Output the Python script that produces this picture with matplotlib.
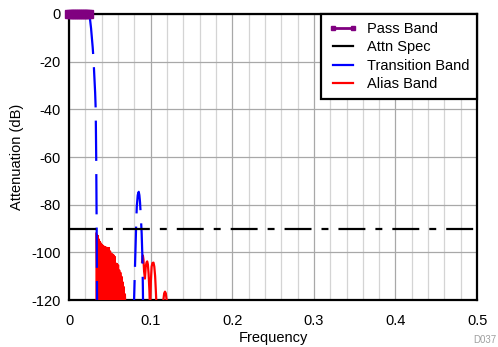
import matplotlib
matplotlib.use("Agg")
import matplotlib.pyplot as plt
from matplotlib.lines import Line2D
from matplotlib.ticker import MultipleLocator

plt.rcParams['font.family'] = ['Liberation Sans', 'DejaVu Sans']
plt.rcParams['lines.scale_dashes'] = False

# pass band (flat at 0 dB)
pass_f = [0.0, 0.0025, 0.005, 0.0075, 0.01, 0.0125, 0.015, 0.0175, 0.02, 0.0225, 0.0245]
pass_db = [0.0, 0.0, 0.0, 0.0, 0.0, 0.0, 0.0, 0.0, 0.0, 0.0, 0.0]

# attenuation spec
spec_f = [0.0, 0.5]
spec_db = [-90.0, -90.0]

# transition band (filter response)
trans_f = [0.0245, 0.025, 0.026, 0.027, 0.028, 0.029, 0.030, 0.031, 0.032, 0.0327,
           0.033, 0.0333, 0.0336, 0.0339, 0.0342, 0.0345, 0.050, 0.079, 0.0797,
           0.0805, 0.0815, 0.0823, 0.083, 0.0842, 0.0854, 0.0862, 0.087, 0.088,
           0.089, 0.0899, 0.0905, 0.091]
trans_db = [0.0, -0.5, -3, -6, -10, -14, -19, -26, -33, -40,
            -50, -60, -75, -92, -110, -130, -140, -130, -120,
            -110, -98, -88, -81, -76, -74.6, -76, -79, -85,
            -92, -102, -115, -130]

# alias band, first group of lobes
alias1_f = [0.0331, 0.0337, 0.0343, 0.0349, 0.0355, 0.0361, 0.0367, 0.0373, 0.0380, 0.0387,
            0.0394, 0.0401, 0.0408, 0.0415, 0.0422, 0.0429, 0.0436, 0.0443, 0.0450, 0.0457,
            0.0464, 0.0471, 0.0478, 0.0485, 0.0492, 0.0499, 0.0506, 0.0513, 0.0520, 0.0527,
            0.0534, 0.0541, 0.0548, 0.0555, 0.0562, 0.0569, 0.0576, 0.0583, 0.0590, 0.0597,
            0.0604, 0.0611, 0.0618, 0.0625, 0.0632, 0.0639, 0.0646, 0.0653, 0.0660, 0.0667,
            0.0674, 0.0681, 0.0688, 0.0695]
alias1_db = [-92.0, -125, -92.5, -125, -93.0, -125, -94.5, -125, -95.5, -125,
             -96.2, -125, -96.8, -125, -97.3, -125, -97.6, -125, -97.8, -125,
             -98.0, -125, -98.1, -125, -98.1, -125, -99.5, -125, -100.5, -125,
             -100.8, -125, -101.2, -125, -101.8, -125, -104.6, -125, -104.8, -125,
             -105.3, -125, -107.5, -125, -108.5, -125, -110.2, -125, -112.5, -125,
             -114.5, -125, -117.5, -125]

# alias band, second group of lobes
alias2_f = [0.0895, 0.0900, 0.0905, 0.0912, 0.0920, 0.0930, 0.0940, 0.0950, 0.0958, 0.0966,
            0.0975, 0.0985, 0.0993, 0.1003, 0.1012, 0.1022, 0.1035, 0.1045, 0.1055, 0.1065,
            0.1075, 0.1148, 0.1156, 0.1166, 0.1176, 0.1186, 0.1196, 0.1205]
alias2_db = [-104, -101.8, -101.3, -103, -108, -111, -106, -104.2, -103.8, -105,
             -109, -116, -125, -112, -106, -104.5, -104.3, -106, -110, -117,
             -125, -125, -120, -117.2, -116.5, -117.2, -120, -125]

fig = plt.figure(figsize=(4.98, 3.47), dpi=100)
ax = fig.add_axes([0.1386, 0.1354, 0.8194, 0.8243])

ax.plot(alias1_f, alias1_db, color='#ff0000', lw=1.2, zorder=3)
ax.plot(alias2_f, alias2_db, color='#ff0000', lw=1.6, zorder=3)
ax.plot(trans_f, trans_db, color='#0000ff', lw=1.6, linestyle=(0, (29, 9.5)), zorder=4)
ax.plot(spec_f, spec_db, color='black', lw=1.6, linestyle=(0, (19.4, 7.2, 5, 7.2)), zorder=4)
ax.plot(pass_f, pass_db, color='#800080', lw=2, marker='s', markersize=5.5,
        markerfacecolor='#800080', markeredgecolor='#800080', zorder=5, clip_on=False)

ax.set_xlim(0, 0.5)
ax.set_ylim(-120, 0)
ax.xaxis.set_minor_locator(MultipleLocator(0.02))
ax.set_xticks([0, 0.1, 0.2, 0.3, 0.4, 0.5])
ax.set_xticklabels(['0', '0.1', '0.2', '0.3', '0.4', '0.5'])
ax.set_yticks([0, -20, -40, -60, -80, -100, -120])
ax.set_yticklabels(['0', '-20', '-40', '-60', '-80', '-100', '-120'])
ax.grid(which='major', color='#a8a8a8', lw=0.9)
ax.grid(which='minor', axis='x', color='#d4d4d4', lw=0.9)
ax.set_axisbelow(True)
ax.tick_params(which='both', length=0, labelsize=10.5)
ax.tick_params(axis='x', pad=10)
ax.tick_params(axis='y', pad=6)
for s in ax.spines.values():
    s.set_linewidth(1.6)
    s.set_color('black')

ax.set_xlabel('Frequency', fontsize=10.5, labelpad=2)
ax.set_ylabel('Attenuation (dB)', fontsize=10.5, labelpad=5)

handles = [
    Line2D([], [], color='#800080', lw=2, marker='s', markersize=3.5),
    Line2D([], [], color='black', lw=1.6),
    Line2D([], [], color='#0000ff', lw=1.6),
    Line2D([], [], color='#ff0000', lw=1.6),
]
leg = ax.legend(handles, ['Pass Band', 'Attn Spec', 'Transition Band', 'Alias Band'],
                loc='upper right', borderaxespad=0, fontsize=10.5, fancybox=False,
                framealpha=1, edgecolor='black', handlelength=2.0, numpoints=2,
                labelspacing=0.3, handletextpad=0.6, borderpad=0.55)
leg.get_frame().set_linewidth(1.6)
leg.set_zorder(10)

fig.text(0.951, 0.012, 'D037', fontsize=7, color='#a0a0a0')

fig.savefig('out.png', dpi=100)
